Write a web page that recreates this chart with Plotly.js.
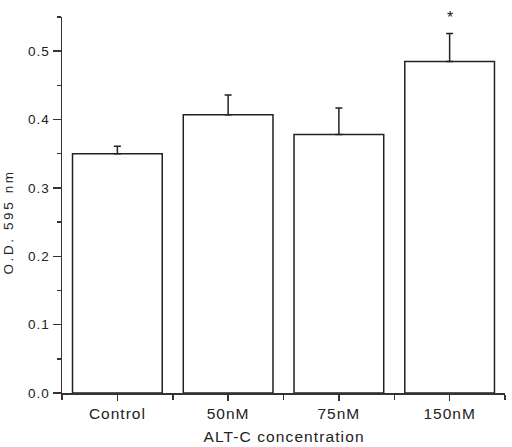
<!DOCTYPE html>
<html>
<head>
<meta charset="utf-8">
<script src="https://cdn.plot.ly/plotly-3.0.1.min.js"></script>
<style>
  html, body { margin: 0; padding: 0; background: #fff; }
  #chart { width: 512px; height: 447px; }
  .xtick text { letter-spacing: 1px; }
  .ytick text { letter-spacing: 1px; }
  g.annotation[data-index="0"] text { letter-spacing: 2.6px; }
  g.annotation[data-index="1"] text { letter-spacing: 1.1px; }
</style>
</head>
<body>
<div id="chart"></div>
<script>
// Data
const categories = ["Control", "50nM", "75nM", "150nM"];
const odValues   = [0.350, 0.407, 0.378, 0.485];
const odErrors   = [0.011, 0.029, 0.039, 0.041];
const significance = ["", "", "", "*"];
const yTitle = "O.D. 595 nm";
const xTitle = "ALT-C concentration";

const xIndex = categories.map((c, i) => i);
const ink = "#222";
const axisInk = "#333";
const fontFam = "Liberation Sans, Arial, sans-serif";

const trace = {
  type: "bar",
  x: xIndex,
  y: odValues,
  width: 0.81,
  marker: { color: "#ffffff", line: { color: ink, width: 1.5 } },
  error_y: {
    type: "data",
    symmetric: false,
    array: odErrors,
    arrayminus: odErrors.map(() => 0),
    color: ink,
    thickness: 1.5,
    width: 3.5
  },
  hoverinfo: "skip"
};

const annotations = [
  {
    text: yTitle, xref: "paper", yref: "paper",
    x: -0.119, y: 0.455, xanchor: "center", yanchor: "middle",
    textangle: -90, showarrow: false,
    font: { family: fontFam, size: 13.5, color: ink }
  },
  {
    text: xTitle, xref: "paper", yref: "paper",
    x: 0.5, y: -0.117, xanchor: "center", yanchor: "middle",
    showarrow: false,
    font: { family: fontFam, size: 15.5, color: ink }
  }
];
significance.forEach((s, i) => {
  if (s) {
    annotations.push({
      text: s, x: xIndex[i], y: odValues[i] + odErrors[i],
      xref: "x", yref: "y", xanchor: "center", yanchor: "bottom",
      yshift: 5, showarrow: false,
      font: { family: fontFam, size: 16, color: ink }
    });
  }
});

const layout = {
  width: 512, height: 447,
  margin: { l: 62, r: 7, t: 17, b: 54, pad: 0 },
  paper_bgcolor: "#ffffff",
  plot_bgcolor: "#ffffff",
  showlegend: false,
  font: { family: fontFam, color: ink },
  xaxis: {
    type: "linear",
    range: [-0.5, 3.5],
    tickmode: "array",
    tickvals: xIndex,
    ticktext: categories,
    ticks: "outside", ticklen: 6, tickwidth: 1.5, tickcolor: axisInk,
    showline: true, linecolor: axisInk, linewidth: 1.5,
    showgrid: false, zeroline: false,
    tickfont: { family: fontFam, size: 15.5, color: ink },
    minor: {
      tickmode: "array",
      tickvals: [-0.5, 0.5, 1.5, 2.5, 3.5],
      ticks: "outside", ticklen: 5, tickwidth: 1.5, tickcolor: axisInk,
      showgrid: false
    },
    fixedrange: true
  },
  yaxis: {
    range: [0, 0.55],
    tickmode: "linear", tick0: 0, dtick: 0.1,
    tickformat: ".1f",
    ticks: "outside", ticklen: 8, tickwidth: 1.5, tickcolor: axisInk,
    showline: true, linecolor: axisInk, linewidth: 1.5,
    showgrid: false, zeroline: false,
    tickfont: { family: fontFam, size: 13.5, color: ink },
    minor: {
      tickmode: "linear", tick0: 0, dtick: 0.05,
      ticks: "outside", ticklen: 4, tickwidth: 1.5, tickcolor: axisInk,
      showgrid: false
    },
    fixedrange: true
  },
  annotations: annotations
};

Plotly.newPlot("chart", [trace], layout, { displayModeBar: false, staticPlot: true });
</script>
</body>
</html>
